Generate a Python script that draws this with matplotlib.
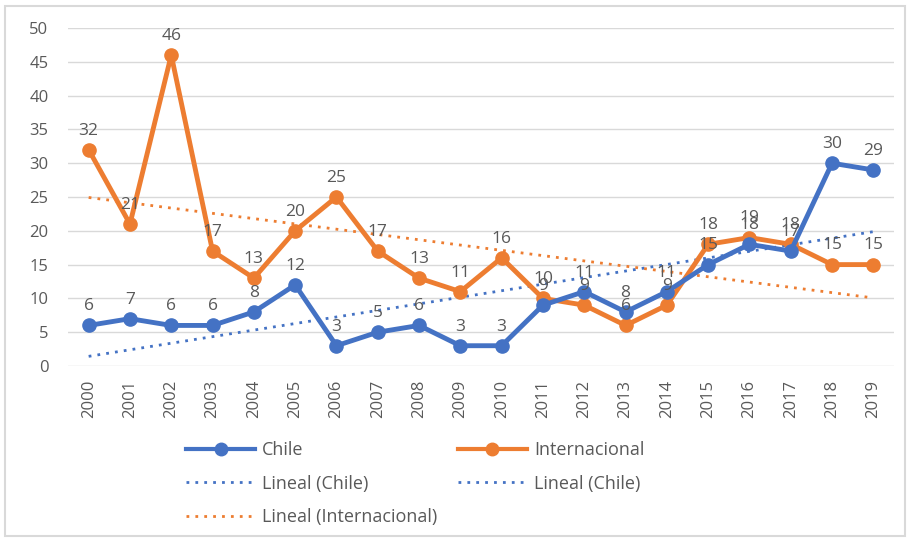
import numpy as np
import matplotlib.pyplot as plt
from matplotlib.lines import Line2D
plt.switch_backend('agg')

years = [str(y) for y in range(2000, 2020)]
chile = [6, 7, 6, 6, 8, 12, 3, 5, 6, 3, 3, 9, 11, 8, 11, 15, 18, 17, 30, 29]
internacional = [32, 21, 46, 17, 13, 20, 25, 17, 13, 11, 16, 10, 9, 6, 9, 18, 19, 18, 15, 15]

blue = "#4472C4"
orange = "#ED7D31"
grey = "#595959"

plt.rcParams['font.family'] = ['Open Sans', 'DejaVu Sans']

fig = plt.figure(figsize=(9.18, 5.41), dpi=100)
ax = fig.add_axes([68/918, 1-366/541, (894-68)/918, (366-28)/541])

x = np.arange(len(years))

# linear trends
for vals, col in ((chile, blue), (internacional, orange)):
	m, b = np.polyfit(x, vals, 1)
	ax.plot(x, m*x + b, color=col, lw=2, ls=(0, (1, 2.2)), zorder=2)

ax.plot(x, chile, color=blue, lw=3.5, marker='o', ms=9.5, zorder=4)
ax.plot(x, internacional, color=orange, lw=3.5, marker='o', ms=9.5, zorder=3)

for vals in (chile, internacional):
	for xi, v in zip(x, vals):
		ax.annotate(str(v), (xi, v), xytext=(0, 8), textcoords='offset points',
			ha='center', va='bottom', fontsize=12.5, color=grey, zorder=5)

ax.set_xlim(-0.5, len(years) - 0.5)
ax.set_ylim(0, 50)
ax.set_yticks(range(0, 51, 5))
ax.set_xticks(x)
ax.set_xticklabels(years, rotation=90)
ax.tick_params(length=0, labelsize=12, labelcolor=grey)
ax.tick_params(axis='y', pad=14)
ax.tick_params(axis='x', pad=10)
ax.grid(axis='y', color='#D9D9D9', lw=1)
ax.set_axisbelow(True)
for s in ax.spines.values():
	s.set_visible(False)

dotted = (0, (1, 2.2))
handles = [
	Line2D([], [], color=blue, lw=3, marker='o', ms=9),
	Line2D([], [], color=orange, lw=3, marker='o', ms=9),
	Line2D([], [], color=blue, lw=2, ls=dotted),
	Line2D([], [], color=blue, lw=2, ls=dotted),
	Line2D([], [], color=orange, lw=2, ls=dotted),
]
labels = ["Chile", "Internacional", "Lineal (Chile)", "Lineal (Chile)", "Lineal (Internacional)"]
# order for row-wise layout with 2 columns
order = [0, 2, 4, 1, 3]
leg = fig.legend([handles[i] for i in order], [labels[i] for i in order], ncol=2,
	loc='upper left', bbox_to_anchor=(170/918, 1-425/541), frameon=False,
	fontsize=13, handlelength=3.8, handletextpad=0.4, columnspacing=1.15,
	labelspacing=0.85, labelcolor=grey)

# outer border
fig.patches.append(plt.Rectangle((5/918, 5/541), 900/918, 530/541, transform=fig.transFigure,
	fill=False, edgecolor='#D9D9D9', lw=1.5))

plt.savefig('out.png', dpi=100)
